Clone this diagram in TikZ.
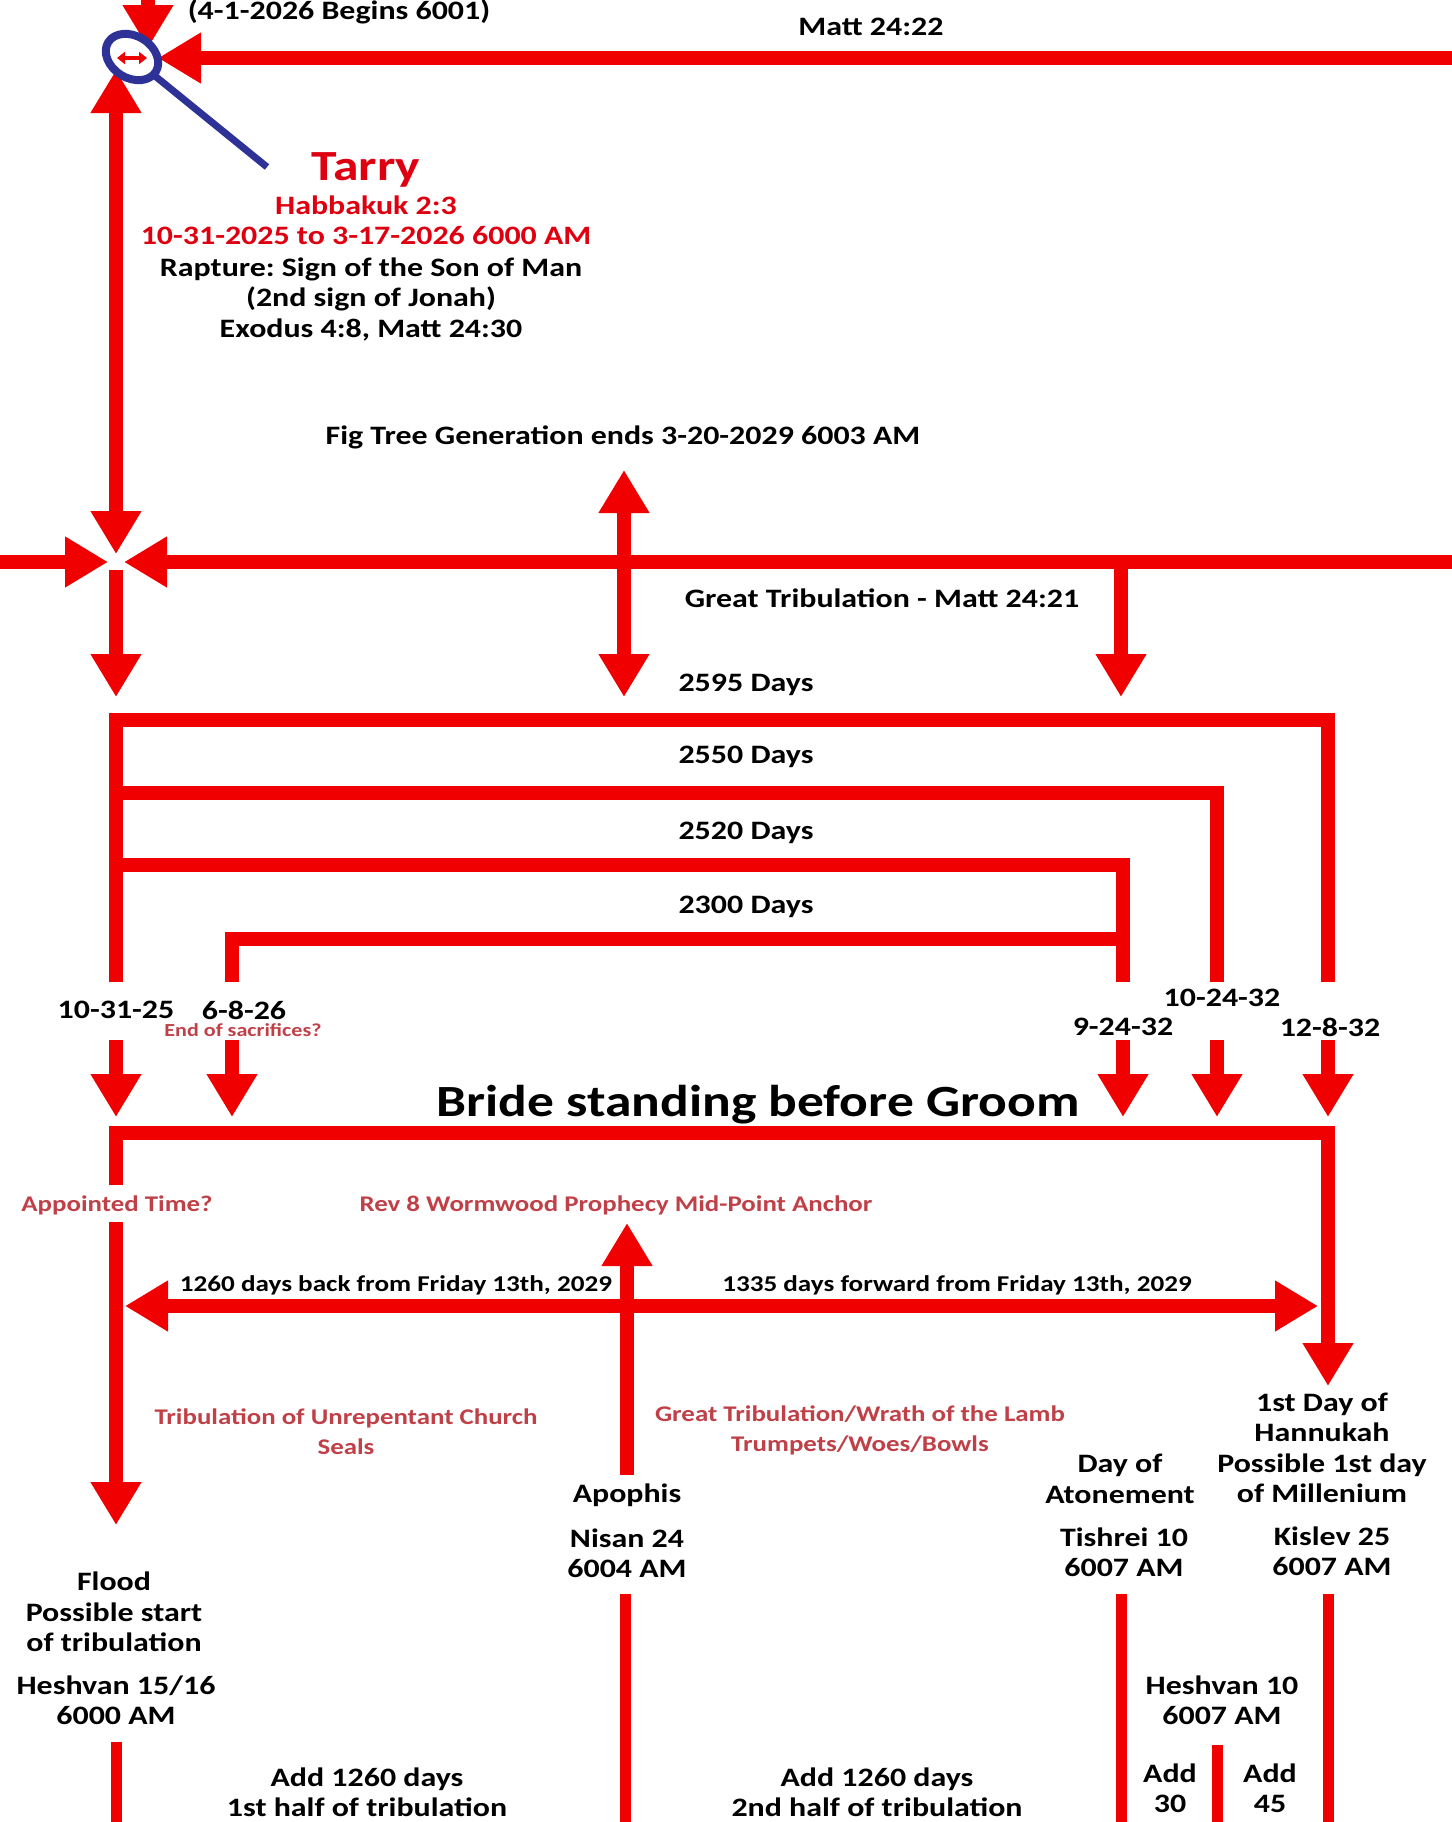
\documentclass[tikz,border=0pt]{standalone}
\usepackage{fontspec}
\setmainfont{Carlito}[FakeStretch=1.2]
\usetikzlibrary{arrows.meta, positioning}
\definecolor{linered}{RGB}{240,0,0}
\definecolor{tarryred}{RGB}{222,0,16}
\definecolor{notered}{RGB}{192,64,72}
\definecolor{ringblue}{RGB}{46,50,150}
\frenchspacing

\begin{document}
\begin{tikzpicture}[x=0.5pt, y=-0.5pt,
    >={Triangle[length=21.5pt, width=24pt]},
    bar/.style={draw=linered, line width=7pt},
    thinbar/.style={draw=linered, line width=5.5pt},
    arrow/.style={bar, ->},
    twoway/.style={bar, <->},
    txt/.style={font=\bfseries\fontsize{13.3}{15.25}\selectfont, align=center, inner sep=0pt},
    bigtxt/.style={txt, font=\bfseries\fontsize{22.3}{26}\selectfont},
    redtxt/.style={txt, text=tarryred},
    notetxt/.style={txt, text=notered, font=\bfseries\fontsize{11.2}{15}\selectfont},
    smalltxt/.style={txt, font=\bfseries\fontsize{11.3}{14}\selectfont}
]
\useasboundingbox (0,0) rectangle (1452,1822);

% top: the tarry point
\coordinate (topin) at (148,-5);
\coordinate (toptip) at (148,48);
\coordinate (mattin) at (1460,58);
\coordinate (matttip) at (158,58);
\coordinate (tarryup) at (116,70);
\coordinate (crossN) at (116,554);
\coordinate (ring) at (132,57);
\coordinate (stickA) at (155,76);
\coordinate (stickB) at (267,167);
\coordinate (smallL) at (117,58);
\coordinate (smallR) at (147,58);

\node[txt, anchor=base] (begins) at (339,19) {(4-1-2026 Begins 6001)};
\node[txt] (matt) at (871,27) {Matt 24:22};
\node[bigtxt, text=tarryred, font=\bfseries\fontsize{21.5}{26}\selectfont] (tarry) at (366,170) {Tarry};
\node[redtxt] (habb) at (366,205) {Habbakuk 2:3};
\node[redtxt] (span) at (366,236) {10-31-2025 to 3-17-2026 6000 AM};
\node[txt] (rapture) at (371,299) {Rapture: Sign of the Son of Man\\(2nd sign of Jonah)\\Exodus 4:8, Matt 24:30};

\draw[arrow] (topin) -- (toptip);
\draw[arrow] (mattin) -- (matttip);
\draw[twoway] (tarryup) -- (crossN);
\draw[ringblue, line width=3.5pt] (stickA) -- (stickB);
\draw[ringblue, line width=4pt, rotate around={-32:(ring)}] (ring) ellipse [x radius=14pt, y radius=10.5pt];
\draw[linered, line width=1.6pt, {Triangle[length=4pt, width=6pt]}-{Triangle[length=4pt, width=6pt]}] (smallL) -- (smallR);

% great tribulation line
\coordinate (farW) at (0,562);
\coordinate (crossW) at (108,562);
\coordinate (farE) at (1460,562);
\coordinate (crossE) at (124,562);
\coordinate (crossS) at (116,570);
\coordinate (crossSt) at (116,697);
\coordinate (figtop) at (624,470);
\coordinate (figbot) at (624,697);
\coordinate (gtstart) at (1121,562);
\coordinate (gttip) at (1121,697);

\node[txt] (figtree) at (623,437) {Fig Tree Generation ends 3-20-2029 6003 AM};
\node[txt] (greattrib) at (882,598) {Great Tribulation - Matt 24:21};

\draw[arrow] (farW) -- (crossW);
\draw[arrow] (farE) -- (crossE);
\draw[arrow] (crossS) -- (crossSt);
\draw[twoway] (figtop) -- (figbot);
\draw[arrow] (gtstart) -- (gttip);

% day brackets
\coordinate (lA) at (116,982);
\coordinate (lB) at (232,982);
\coordinate (r1) at (1328,982);
\coordinate (r2) at (1217,982);
\coordinate (r3) at (1123,982);

\node[txt] (d2595) at (746,685) {2595 Days};
\node[txt] (d2550) at (746,757) {2550 Days};
\node[txt] (d2520) at (746,833) {2520 Days};
\node[txt] (d2300) at (746,907) {2300 Days};

\draw[bar] (lA) |- (1328,720) -- (r1);
\draw[bar] (116,793) -| (r2);
\draw[bar] (116,865) -| (r3);
\draw[bar] (lB) |- (1123,939);

\node[txt] (t103125) at (116,1010) {10-31-25};
\node[txt] (t6826) at (244,1010) {6-8-26};
\node[txt, text=notered, font=\bfseries\fontsize{9.2}{11}\selectfont] (sacr) at (243,1030) {End of sacrifices?};
\node[txt] (t92432) at (1123,1027) {9-24-32};
\node[txt] (t102432) at (1222,998) {10-24-32};
\node[txt] (t12832) at (1330,1027) {12-8-32};

\foreach \xx/\nm in {116/a, 232/b, 1123/c, 1217/d, 1328/e} {
  \coordinate (in\nm) at (\xx,1040);
  \coordinate (tip\nm) at (\xx,1117);
  \draw[arrow] (in\nm) -- (tip\nm);
}

% bride standing before groom
\node[bigtxt] (bride) at (758,1105) {Bride standing before Groom};
\node[notetxt] (appointed) at (117,1205) {Appointed Time?};
\node[notetxt] (wormwood) at (616,1205) {Rev 8 Wormwood Prophecy Mid-Point Anchor};
\node[smalltxt] (back) at (396,1285) {1260 days back from Friday 13th, 2029};
\node[smalltxt] (forward) at (957,1285) {1335 days forward from Friday 13th, 2029};
\node[notetxt] (unrep) at (346,1432) {Tribulation of Unrepentant Church\\Seals};
\node[notetxt] (wrath) at (860,1430) {Great Tribulation/Wrath of the Lamb\\Trumpets/Woes/Bowls};

\coordinate (brideL) at (116,1185);
\coordinate (brideR) at (1328,1386);
\coordinate (floodin) at (116,1222);
\coordinate (floodtip) at (116,1525);
\coordinate (backtip) at (125,1306);
\coordinate (fwdtip) at (1318,1306);
\coordinate (apoin) at (627,1475);
\coordinate (apotip) at (627,1223);

\draw[bar, ->] (brideL) |- (1328,1133) -- (brideR);
\draw[arrow] (floodin) -- (floodtip);
\draw[twoway] (backtip) -- (fwdtip);
\draw[arrow] (apoin) -- (apotip);

% dates
\node[txt] (apophis) at (627,1495) {Apophis};
\node[txt] (nisan) at (627,1553) {Nisan 24\\6004 AM};
\node[txt] (atone) at (1120,1479) {Day of\\Atonement};
\node[txt] (tishrei) at (1124,1552) {Tishrei 10\\6007 AM};
\node[txt] (hannukah) at (1322,1448) {1st Day of\\Hannukah\\Possible 1st day\\of Millenium};
\node[txt] (kislev) at (1332,1551) {Kislev 25\\6007 AM};
\node[txt] (flood) at (114,1612) {Flood\\Possible start\\of tribulation};
\node[txt] (heshA) at (116,1700) {Heshvan 15/16\\6000 AM};
\node[txt] (heshB) at (1222,1700) {Heshvan 10\\6007 AM};
\node[txt] (add1) at (367,1792) {Add 1260 days\\1st half of tribulation};
\node[txt] (add2) at (877,1792) {Add 1260 days\\2nd half of tribulation};
\node[txt] (add30) at (1170,1788) {Add\\30};
\node[txt] (add45) at (1270,1788) {Add\\45};

\foreach \xx/\yy/\nm in {116/1742/a, 625/1594/b, 1121/1594/c, 1217/1745/d, 1328/1594/e} {
  \coordinate (low\nm) at (\xx,\yy);
  \coordinate (end\nm) at (\xx,1830);
  \draw[thinbar] (low\nm) -- (end\nm);
}
\end{tikzpicture}
\end{document}
